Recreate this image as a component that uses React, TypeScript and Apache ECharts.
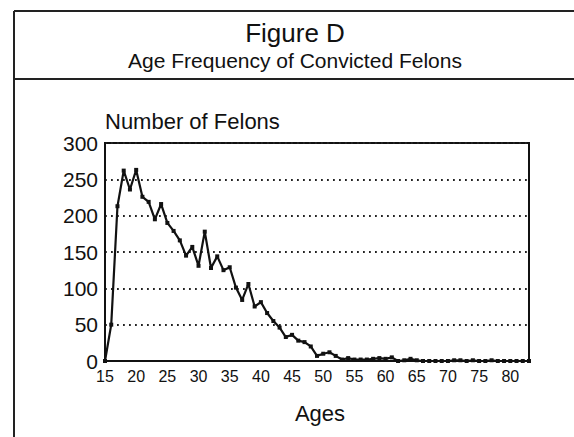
import React, { useEffect, useRef } from "react";
import * as echarts from "echarts";

const ages: number[] = [];
for (let a = 15; a <= 83; a++) ages.push(a);

const felons = [
  0, 50, 213, 262, 236, 263, 226, 219, 195, 216,
  190, 179, 166, 145, 157, 131, 178, 128, 144, 125,
  129, 101, 84, 106, 75, 81, 66, 55, 46, 33,
  36, 28, 26, 20, 7, 10, 12, 7, 2, 4,
  2, 2, 2, 3, 4, 3, 5, 0, 1, 3,
  1, 0, 0, 0, 0, 0, 1, 1, 0, 1,
  0, 0, 1, 0, 0, 0, 0, 0, 0,
];

const xTicks = [15, 20, 25, 30, 35, 40, 45, 50, 55, 60, 65, 70, 75, 80];
const yTicks = [0, 50, 100, 150, 200, 250, 300];

const titleText = "Figure D";
const subtitleText = "Age Frequency of Convicted Felons";
const yName = "Number of Felons";
const xName = "Ages";

export default function App() {
  const ref = useRef<HTMLDivElement>(null);
  useEffect(() => {
    if (!ref.current) return;
    const chart = echarts.init(ref.current, null, { renderer: "svg" });
    const font = "'Liberation Sans', Arial, Helvetica, sans-serif";
    chart.setOption({
      animation: false,
      backgroundColor: "#ffffff",
      textStyle: { fontFamily: font },
      grid: {
        left: 105,
        right: 45,
        top: 143,
        bottom: 76,
        show: true,
        borderColor: "#111",
        borderWidth: 2,
        backgroundColor: "transparent",
      },
      xAxis: {
        type: "value",
        min: 15,
        max: 83,
        interval: 5,
        axisLine: { show: true, lineStyle: { color: "#111", width: 2 } },
        axisTick: { show: false },
        splitLine: { show: false },
        axisLabel: {
          color: "#111",
          fontSize: 16,
          fontFamily: font,
          margin: 7,
          showMaxLabel: false,
          formatter: (v: number) => (xTicks.includes(v) ? String(v) : ""),
        },
      },
      yAxis: {
        type: "value",
        min: yTicks[0],
        max: yTicks[yTicks.length - 1],
        interval: 50,
        axisLine: { show: true, lineStyle: { color: "#111", width: 2 } },
        axisTick: { show: false },
        axisLabel: { color: "#111", fontSize: 21, fontFamily: font, margin: 7 },
        splitLine: {
          show: true,
          lineStyle: { color: "#222", width: 1.8, type: [1.8, 4.2] },
        },
      },
      series: [
        {
          type: "line",
          data: ages.map((a, i) => [a, felons[i]]),
          symbol: "rect",
          symbolSize: 4,
          showSymbol: true,
          lineStyle: { color: "#111", width: 2.2 },
          itemStyle: { color: "#111" },
        },
      ],
      graphic: [
        { type: "line", shape: { x1: 14, y1: 11, x2: 574, y2: 11 }, style: { stroke: "#222", lineWidth: 2 } },
        { type: "line", shape: { x1: 14, y1: 11, x2: 14, y2: 437 }, style: { stroke: "#222", lineWidth: 2 } },
        { type: "line", shape: { x1: 14, y1: 79, x2: 574, y2: 79 }, style: { stroke: "#222", lineWidth: 2 } },
        {
          type: "text",
          x: 295,
          y: 33,
          style: { text: titleText, fontSize: 26, fontFamily: font, fill: "#111", align: "center", verticalAlign: "middle" },
        },
        {
          type: "text",
          x: 295,
          y: 60,
          style: { text: subtitleText, fontSize: 21, fontFamily: font, fill: "#111", align: "center", verticalAlign: "middle" },
        },
        {
          type: "text",
          x: 105,
          y: 121,
          style: { text: yName, fontSize: 22, fontFamily: font, fill: "#111", align: "left", verticalAlign: "middle" },
        },
        {
          type: "text",
          x: 320,
          y: 413,
          style: { text: xName, fontSize: 22, fontFamily: font, fill: "#111", align: "center", verticalAlign: "middle" },
        },
      ],
    });
    return () => chart.dispose();
  }, []);
  return (
    <div
      ref={ref}
      style={{ position: "fixed", left: 0, top: 0, width: 574, height: 437, background: "#fff" }}
    />
  );
}
